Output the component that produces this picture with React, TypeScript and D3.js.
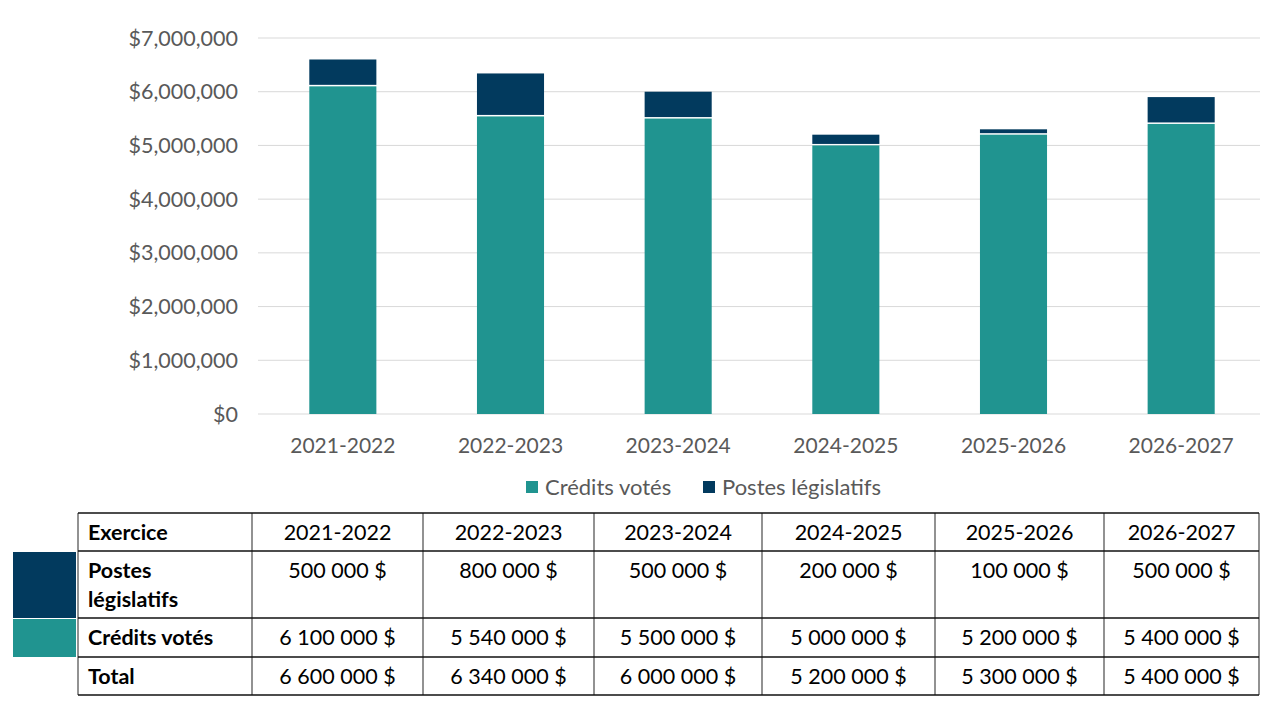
import { useEffect, useRef } from "react";
import * as d3 from "d3";

const years = ["2021-2022", "2022-2023", "2023-2024", "2024-2025", "2025-2026", "2026-2027"];
const credits = [6100000, 5540000, 5500000, 5000000, 5200000, 5400000];
const postes = [500000, 800000, 500000, 200000, 100000, 500000];
// totals as printed in the table
const totals = [6600000, 6340000, 6000000, 5200000, 5300000, 5400000];
const yTicks = [0, 1000000, 2000000, 3000000, 4000000, 5000000, 6000000, 7000000];

const TEAL = "#209490";
const NAVY = "#023A5E";
const FONT = "Lato, 'Open Sans', sans-serif";

const W = 1280, H = 720;
const plot = { left: 258, right: 1260, top: 38, bottom: 414 };

const fmtFr = (v: number) => d3.format(",")(v).replace(/,/g, " ") + " $";

export default function App() {
  const ref = useRef<SVGSVGElement>(null);

  useEffect(() => {
    const svg = d3.select(ref.current);
    svg.selectAll("*").remove();

    const x = d3.scaleBand().domain(years).range([259, 1265]).paddingInner(0.6).paddingOuter(0.3);
    const y = d3.scaleLinear().domain([0, 7000000]).range([plot.bottom, plot.top]);

    // gridlines
    svg.append("g")
      .selectAll("line")
      .data(yTicks)
      .join("line")
      .attr("x1", plot.left).attr("x2", plot.right)
      .attr("y1", d => y(d)).attr("y2", d => y(d))
      .attr("stroke", "#d9d9d9").attr("stroke-width", 1);

    // y labels
    svg.append("g")
      .selectAll("text")
      .data(yTicks)
      .join("text")
      .attr("x", 238).attr("y", d => y(d))
      .attr("dy", "0.35em")
      .attr("text-anchor", "end")
      .attr("font-family", FONT).attr("font-size", 21.5)
      .attr("fill", "#595959")
      .text(d => d3.format("$,")(d));

    // stacked bars
    const rows = years.map((yr, i) => ({ yr, c: credits[i], p: postes[i] }));
    const g = svg.append("g");
    g.selectAll("rect.c")
      .data(rows)
      .join("rect")
      .attr("class", "c")
      .attr("x", d => x(d.yr)!)
      .attr("width", x.bandwidth())
      .attr("y", d => y(d.c))
      .attr("height", d => y(0) - y(d.c))
      .attr("fill", TEAL);
    g.selectAll("rect.p")
      .data(rows)
      .join("rect")
      .attr("class", "p")
      .attr("x", d => x(d.yr)!)
      .attr("width", x.bandwidth())
      .attr("y", d => y(d.c + d.p))
      .attr("height", d => y(d.c) - y(d.c + d.p) - 1.5)
      .attr("fill", NAVY);

    // x labels
    svg.append("g")
      .selectAll("text")
      .data(years)
      .join("text")
      .attr("x", d => x(d)! + x.bandwidth() / 2)
      .attr("y", 446)
      .attr("dy", "0.35em")
      .attr("text-anchor", "middle")
      .attr("font-family", FONT).attr("font-size", 21)
      .attr("fill", "#595959")
      .text(d => d);

    // legend
    const legend = [
      { label: "Crédits votés", color: TEAL, x: 526 },
      { label: "Postes législatifs", color: NAVY, x: 703 },
    ];
    const lg = svg.append("g");
    legend.forEach(l => {
      lg.append("rect").attr("x", l.x).attr("y", 481).attr("width", 12).attr("height", 12).attr("fill", l.color);
      lg.append("text")
        .attr("x", l.x + 19).attr("y", 487).attr("dy", "0.35em")
        .attr("font-family", FONT).attr("font-size", 22).attr("fill", "#595959")
        .text(l.label);
    });

    // table
    const colX = [78, 252, 423, 594, 762, 935, 1104, 1259];
    const rowY = [513, 551, 618, 657, 695];
    const t = svg.append("g").attr("font-family", FONT).attr("font-size", 21.5).attr("fill", "#000");

    t.append("rect").attr("x", 13).attr("y", rowY[1] + 1).attr("width", 63).attr("height", rowY[2] - rowY[1] - 1).attr("fill", NAVY);
    t.append("rect").attr("x", 13).attr("y", rowY[2] + 1).attr("width", 63).attr("height", rowY[3] - rowY[2] - 1).attr("fill", TEAL);

    const body = [
      { head: ["Exercice"], vals: years },
      { head: ["Postes", "législatifs"], vals: postes.map(fmtFr) },
      { head: ["Crédits votés"], vals: credits.map(fmtFr) },
      { head: ["Total"], vals: totals.map(fmtFr) },
    ];
    body.forEach((r, ri) => {
      const top = rowY[ri];
      r.head.forEach((h, hi) => {
        t.append("text")
          .attr("x", 88).attr("y", top + 19 + hi * 29).attr("dy", "0.35em")
          .attr("font-weight", "bold")
          .text(h);
      });
      r.vals.forEach((v, ci) => {
        t.append("text")
          .attr("x", (colX[ci + 1] + colX[ci + 2]) / 2)
          .attr("y", top + 19).attr("dy", "0.35em")
          .attr("text-anchor", "middle")
          .text(v);
      });
    });

    colX.forEach(cx => {
      t.append("line").attr("x1", cx).attr("x2", cx).attr("y1", rowY[0]).attr("y2", rowY[4])
        .attr("stroke", "#6e6e6e").attr("stroke-width", 1.5);
    });
    rowY.forEach(ry => {
      t.append("line").attr("x1", colX[0]).attr("x2", colX[colX.length - 1]).attr("y1", ry).attr("y2", ry)
        .attr("stroke", "#111").attr("stroke-width", 1.5);
    });
  }, []);

  return (
    <svg ref={ref} width={W} height={H} style={{ position: "absolute", left: 0, top: 0, background: "#fff" }} />
  );
}
